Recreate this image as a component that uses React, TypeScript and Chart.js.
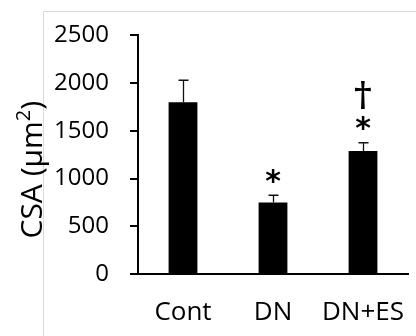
import React, { useEffect, useRef } from "react";
import { Chart, registerables } from "chart.js";

Chart.register(...registerables);

const categories = ["Cont", "DN", "DN+ES"];
const means = [1800, 750, 1290];
const errors = [230, 75, 85];
const starMarks = ["", "*", "*"];
const daggerMarks = ["", "", "†"];
const yTicks = [0, 500, 1000, 1500, 2000, 2500];
const yTitleMain = "CSA (μm";
const yTitleSup = "2";
const yTitleEnd = ")";

const FONT = "'Open Sans', 'DejaVu Sans', sans-serif";

function drawCentered(ctx: CanvasRenderingContext2D, s: string, cx: number, cy: number) {
  const m = ctx.measureText(s);
  const yb = cy + (m.actualBoundingBoxAscent - m.actualBoundingBoxDescent) / 2;
  ctx.fillText(s, cx, yb);
}

const customPlugin = {
  id: "customDecor",
  beforeDraw(chart: any) {
    const ctx = chart.ctx as CanvasRenderingContext2D;
    ctx.save();
    ctx.strokeStyle = "#d9d9d9";
    ctx.lineWidth = 1;
    ctx.beginPath();
    ctx.moveTo(43.5, chart.height);
    ctx.lineTo(43.5, 11.5);
    ctx.lineTo(chart.width, 11.5);
    ctx.stroke();
    ctx.restore();
  },
  afterDatasetsDraw(chart: any) {
    const ctx = chart.ctx as CanvasRenderingContext2D;
    const meta = chart.getDatasetMeta(0);
    const ys = chart.scales.y;
    ctx.save();
    meta.data.forEach((bar: any, i: number) => {
      const x = Math.round(bar.x) + 0.5;
      const top = ys.getPixelForValue(means[i] + errors[i]);
      const base = bar.y;
      ctx.strokeStyle = "#111";
      ctx.lineWidth = 1.3;
      ctx.beginPath();
      ctx.moveTo(x, base);
      ctx.lineTo(x, top);
      ctx.moveTo(x - 5, top);
      ctx.lineTo(x + 5, top);
      ctx.stroke();
      ctx.fillStyle = "#000";
      ctx.textAlign = "center";
      ctx.textBaseline = "alphabetic";
      if (starMarks[i]) {
        ctx.font = `bold 30px 'DejaVu Sans', sans-serif`;
        drawCentered(ctx, starMarks[i], bar.x, top - 19);
      }
      if (daggerMarks[i]) {
        ctx.font = `bold 34px 'DejaVu Serif', serif`;
        drawCentered(ctx, daggerMarks[i], bar.x, top - 48);
      }
    });
    ctx.restore();
  },
  afterDraw(chart: any) {
    const ctx = chart.ctx as CanvasRenderingContext2D;
    const area = chart.chartArea;
    ctx.save();
    ctx.translate(31, (area.top + area.bottom) / 2 + 15);
    ctx.rotate(-Math.PI / 2);
    ctx.fillStyle = "#000";
    ctx.textBaseline = "middle";
    ctx.textAlign = "left";
    const mainFont = `30px ${FONT}`;
    const supFont = `20px ${FONT}`;
    ctx.font = mainFont;
    const w1 = ctx.measureText(yTitleMain).width;
    const w3 = ctx.measureText(yTitleEnd).width;
    ctx.font = supFont;
    const w2 = ctx.measureText(yTitleSup).width;
    let x0 = -(w1 + w2 + w3) / 2;
    ctx.font = mainFont;
    ctx.fillText(yTitleMain, x0, 2);
    x0 += w1;
    ctx.font = supFont;
    ctx.fillText(yTitleSup, x0, -7);
    x0 += w2;
    ctx.font = mainFont;
    ctx.fillText(yTitleEnd, x0, 2);
    ctx.restore();
  },
};

export default function App() {
  const ref = useRef<HTMLCanvasElement | null>(null);
  useEffect(() => {
    if (!ref.current) return;
    const chart = new Chart(ref.current, {
      type: "bar",
      data: {
        labels: categories,
        datasets: [
          {
            data: means,
            backgroundColor: "#000",
            borderWidth: 0,
            categoryPercentage: 1,
            barPercentage: 0.32,
          },
        ],
      },
      options: {
        responsive: false,
        animation: false,
        devicePixelRatio: 1,
        layout: { padding: { top: 35, right: 8, left: 0, bottom: 0 } },
        plugins: {
          legend: { display: false },
          tooltip: { enabled: false },
          title: { display: false },
        },
        scales: {
          x: {
            grid: { display: false, drawTicks: true, tickLength: 23 },
            border: { display: true, color: "#000", width: 2 },
            ticks: {
              font: { family: FONT, size: 26 },
              color: "#000",
              padding: 0,
              maxRotation: 0,
            },
            afterFit(s: any) {
              s.height = 62;
              s.paddingLeft = 0;
              s.paddingRight = 0;
            },
          },
          y: {
            min: 0,
            max: 2500,
            afterBuildTicks(s: any) {
              s.ticks = yTicks.map((v) => ({ value: v }));
            },
            grid: {
              drawOnChartArea: false,
              drawTicks: true,
              tickLength: 8,
              color: "#000",
              lineWidth: 2,
            },
            border: { display: true, color: "#000", width: 2 },
            ticks: {
              font: { family: FONT, size: 24 },
              color: "#000",
              padding: 21,
              callback: (v: any) => String(v),
            },
            afterFit(s: any) {
              s.width = 138;
            },
          },
        },
      },
      plugins: [customPlugin],
    });
    return () => chart.destroy();
  }, []);
  return (
    <div style={{ position: "fixed", left: 0, top: 0, width: 416, height: 336, background: "#fff" }}>
      <canvas ref={ref} width={416} height={336} style={{ display: "block", width: 416, height: 336 }} />
    </div>
  );
}
